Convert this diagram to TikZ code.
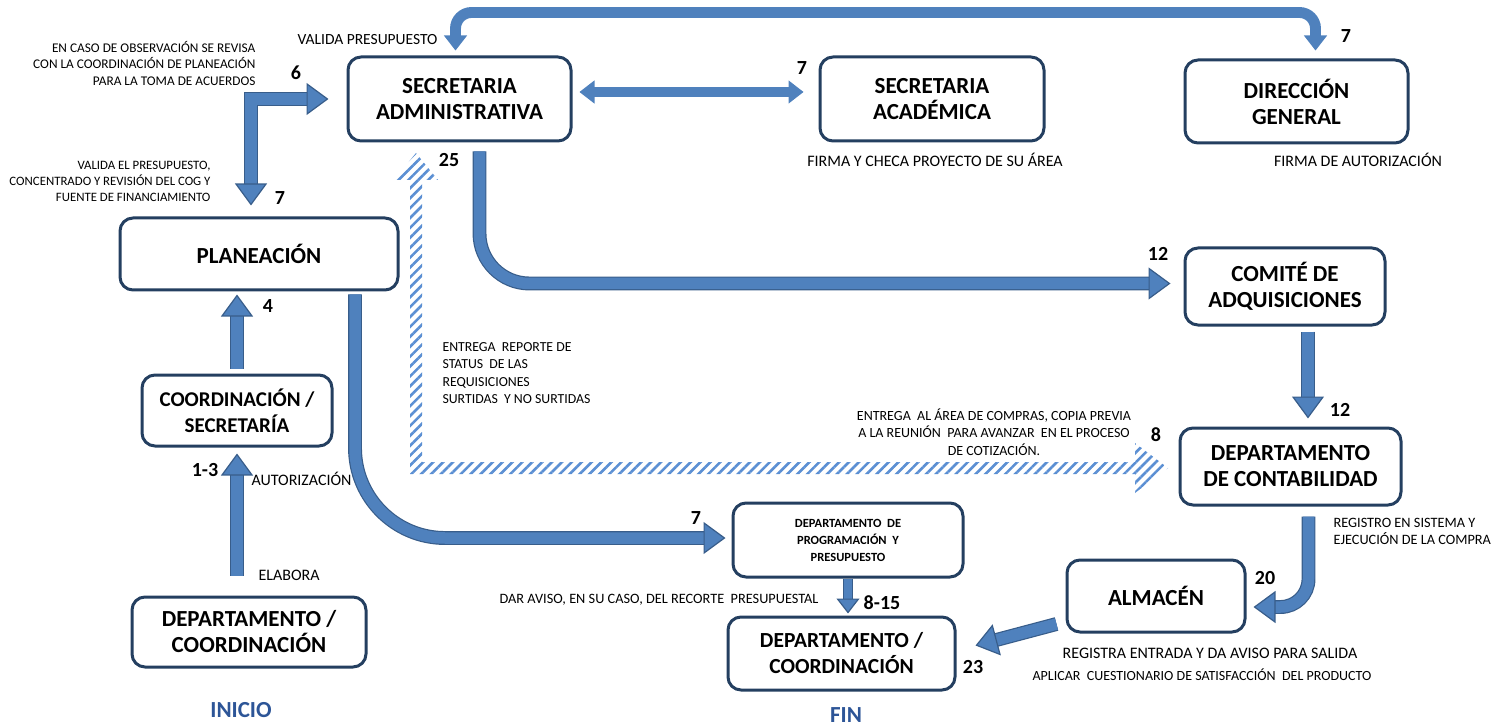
\documentclass[tikz,border=0pt]{standalone}
\usepackage{fontspec}
\setmainfont{Carlito}
\usetikzlibrary{arrows.meta,patterns.meta}
\definecolor{boxline}{HTML}{243F60}
\definecolor{arrowblue}{HTML}{4F81BD}
\definecolor{arrowline}{HTML}{385D8A}
\definecolor{hatchblue}{HTML}{5B8FD3}
\definecolor{titleblue}{HTML}{2D5597}
\begin{document}
\begin{tikzpicture}[x=1pt,y=-1pt,
  box/.style={draw=boxline, line width=3pt, rounded corners=13pt, align=center, inner sep=0pt,
    font=\bfseries\fontsize{23}{26}\selectfont},
  num/.style={font=\bfseries\fontsize{20}{22}\selectfont},
  note/.style={font=\fontsize{16}{18}\selectfont},
  blk/.style={draw=arrowline, line width=1.2pt, double=arrowblue, double distance=11.5pt,
    >={Triangle[width=32pt,length=22pt,fill=arrowblue,line width=1.2pt]}},
  thinblk/.style={blk, double distance=8.5pt,
    >={Triangle[width=23pt,length=15pt,fill=arrowblue,line width=1.2pt]}},
  flatblk/.style={thinblk, draw=arrowblue,
    >={Triangle[width=23pt,length=15pt,color=arrowblue,line width=1.2pt]}},
]
\useasboundingbox (0,0) rectangle (1507,727);

\node[box, minimum width=223pt, minimum height=84pt] (sa) at (459.5,99) {SECRETARIA\\ADMINISTRATIVA};
\node[box, minimum width=224pt, minimum height=84pt] (sac) at (932,99) {SECRETARIA\\ACADÉMICA};
\node[box, minimum width=223pt, minimum height=83pt] (dg) at (1296.5,101.5) {DIRECCIÓN\\GENERAL};
\node[box, minimum width=278pt, minimum height=72pt] (pl) at (259,254) {PLANEACIÓN};
\node[box, minimum width=190pt, minimum height=71pt, font=\bfseries\fontsize{21}{26}\selectfont] (cs) at (237,410.5) {COORDINACIÓN /\\SECRETARÍA};
\node[box, minimum width=234pt, minimum height=70pt] (di) at (249,632) {DEPARTAMENTO /\\COORDINACIÓN};
\node[box, minimum width=200pt, minimum height=77pt] (cm) at (1285,286.5) {COMITÉ DE\\ADQUISICIONES};
\node[box, minimum width=221pt, minimum height=77pt] (cc) at (1290.5,466.5) {DEPARTAMENTO\\DE CONTABILIDAD};
\node[box, minimum width=230pt, minimum height=74pt, font=\bfseries\fontsize{12.5}{17}\selectfont] (dp) at (848,540) {DEPARTAMENTO \ DE\\PROGRAMACIÓN \ Y\\PRESUPUESTO};
\node[box, minimum width=178pt, minimum height=72pt] (al) at (1156,596) {ALMACÉN};
\node[box, minimum width=227pt, minimum height=73pt, font=\bfseries\fontsize{21.5}{26}\selectfont] (df) at (841.5,653.5) {DEPARTAMENTO /\\COORDINACIÓN};

% hatched arrow: entrega al area de compras / reporte de status
\fill[pattern={Lines[angle=45,distance=7pt,line width=2.6pt]}, pattern color=hatchblue]
  (410,474) -- (410,180) -- (394,180) -- (416,153) -- (438,180) -- (422,180) -- (422,462)
  -- (1135,462) -- (1135,443) -- (1168,468) -- (1135,493) -- (1135,474) -- cycle;

\path[draw,blk,->] ([xshift=-12pt,yshift=20pt]di.north) -- ([yshift=-6pt]cs.south);
\path[draw,blk,->] ([yshift=5pt]cs.north) -- ([xshift=-22pt,yshift=-3pt]pl.south);
\path[draw,blk,<->] ([xshift=-8pt,yshift=11pt]pl.north) |- ([xshift=-18pt]sa.west);
\path[draw,flatblk,<->,rounded corners=16pt] ([xshift=-4pt,yshift=5pt]sa.north) -- ++(0,-38) -| ([xshift=19pt,yshift=8pt]dg.north);
\path[draw,flatblk,<->] ([xshift=7pt,yshift=7pt]sa.east) -- ([xshift=-15pt,yshift=7pt]sac.west);
\path[draw,blk,->,rounded corners=50pt] ([xshift=20pt,yshift=-9pt]sa.south) |- ([xshift=-13pt,yshift=3pt]cm.west);
\path[draw,blk,->,rounded corners=90pt] ([xshift=96pt,yshift=-3pt]pl.south) |- ([xshift=-6pt,yshift=2pt]dp.west);
\path[draw,blk,->] ([xshift=23pt,yshift=-5pt]cm.south) -- ([xshift=17.5pt,yshift=8pt]cc.north);
\path[draw,blk,->,rounded corners=28pt] ([xshift=18pt,yshift=-10pt]cc.south) |- ([xshift=7pt,yshift=-11pt]al.east);
\path[draw,blk,->] ([xshift=-9pt,yshift=-28pt]al.west) -- ([xshift=19pt,yshift=8pt]df.east);
\path[draw,thinblk,->] (dp.south) -- ([xshift=6.5pt,yshift=2pt]df.north);

\node[note, anchor=east, font=\fontsize{15.5}{18}\selectfont] (t1) at (441,40) {VALIDA PRESUPUESTO};
\node[note, anchor=east, align=right, font=\fontsize{13.3}{16.5}\selectfont] (t2) at (259,63) {EN CASO DE OBSERVACIÓN SE REVISA\\CON LA COORDINACIÓN DE PLANEACIÓN\\PARA LA TOMA DE ACUERDOS};
\node[note, anchor=east, align=right, font=\fontsize{12.8}{16}\selectfont] (t3) at (214,181) {VALIDA EL PRESUPUESTO,\\CONCENTRADO Y REVISIÓN DEL COG Y\\FUENTE DE FINANCIAMIENTO};
\node[note, anchor=west] (t4) at (248,479) {AUTORIZACIÓN};
\node[note, anchor=west] (t5) at (255,575) {ELABORA};
\node[note, anchor=west, align=left, font=\fontsize{13.8}{17.5}\selectfont] (t6) at (439,373) {ENTREGA \ REPORTE DE\\STATUS \ DE LAS\\REQUISICIONES\\SURTIDAS \ Y NO SURTIDAS};
\node[note, align=center, font=\fontsize{14}{17.5}\selectfont] (t7) at (994,432) {ENTREGA \ AL ÁREA DE COMPRAS, COPIA PREVIA\\A LA REUNIÓN \ PARA AVANZAR \ EN EL PROCESO\\DE COTIZACIÓN.};
\node[note] (t8) at (935,160) {FIRMA Y CHECA PROYECTO DE SU ÁREA};
\node[note] (t9) at (1358,160) {FIRMA DE AUTORIZACIÓN};
\node[note, anchor=west, align=left, font=\fontsize{14.3}{17}\selectfont] (t10) at (1330,531) {REGISTRO EN SISTEMA Y\\EJECUCIÓN DE LA COMPRA};
\node[note, anchor=east, font=\fontsize{14.3}{16}\selectfont] (t11) at (822,600) {DAR AVISO, EN SU CASO, DEL RECORTE \ PRESUPUESTAL};
\node[note] (t12) at (1210,653) {REGISTRA ENTRADA Y DA AVISO PARA SALIDA};
\node[note, font=\fontsize{14}{16}\selectfont] (t13) at (1202,675) {APLICAR \ CUESTIONARIO DE SATISFACCIÓN \ DEL PRODUCTO};

\node[num] (n1) at (296,73) {6};
\node[num] (n2) at (280,198) {7};
\node[num] (n3) at (268,306) {4};
\node[num] (n4) at (205,470) {1-3};
\node[num] (n5) at (449,160) {25};
\node[num] (n6) at (802,68) {7};
\node[num] (n7) at (1346,36) {7};
\node[num] (n8) at (1158,254) {12};
\node[num] (n9) at (1340,410) {12};
\node[num] (n10) at (1156,435) {8};
\node[num] (n11) at (696,518) {7};
\node[num] (n12) at (882,603) {8-15};
\node[num] (n13) at (973,667) {23};
\node[num] (n14) at (1265,578) {20};

\node[font=\bfseries\fontsize{23}{26}\selectfont, text=titleblue] (ini) at (241,710) {INICIO};
\node[font=\bfseries\fontsize{23}{26}\selectfont, text=titleblue] (fin) at (846,715) {FIN};
\end{tikzpicture}
\end{document}
